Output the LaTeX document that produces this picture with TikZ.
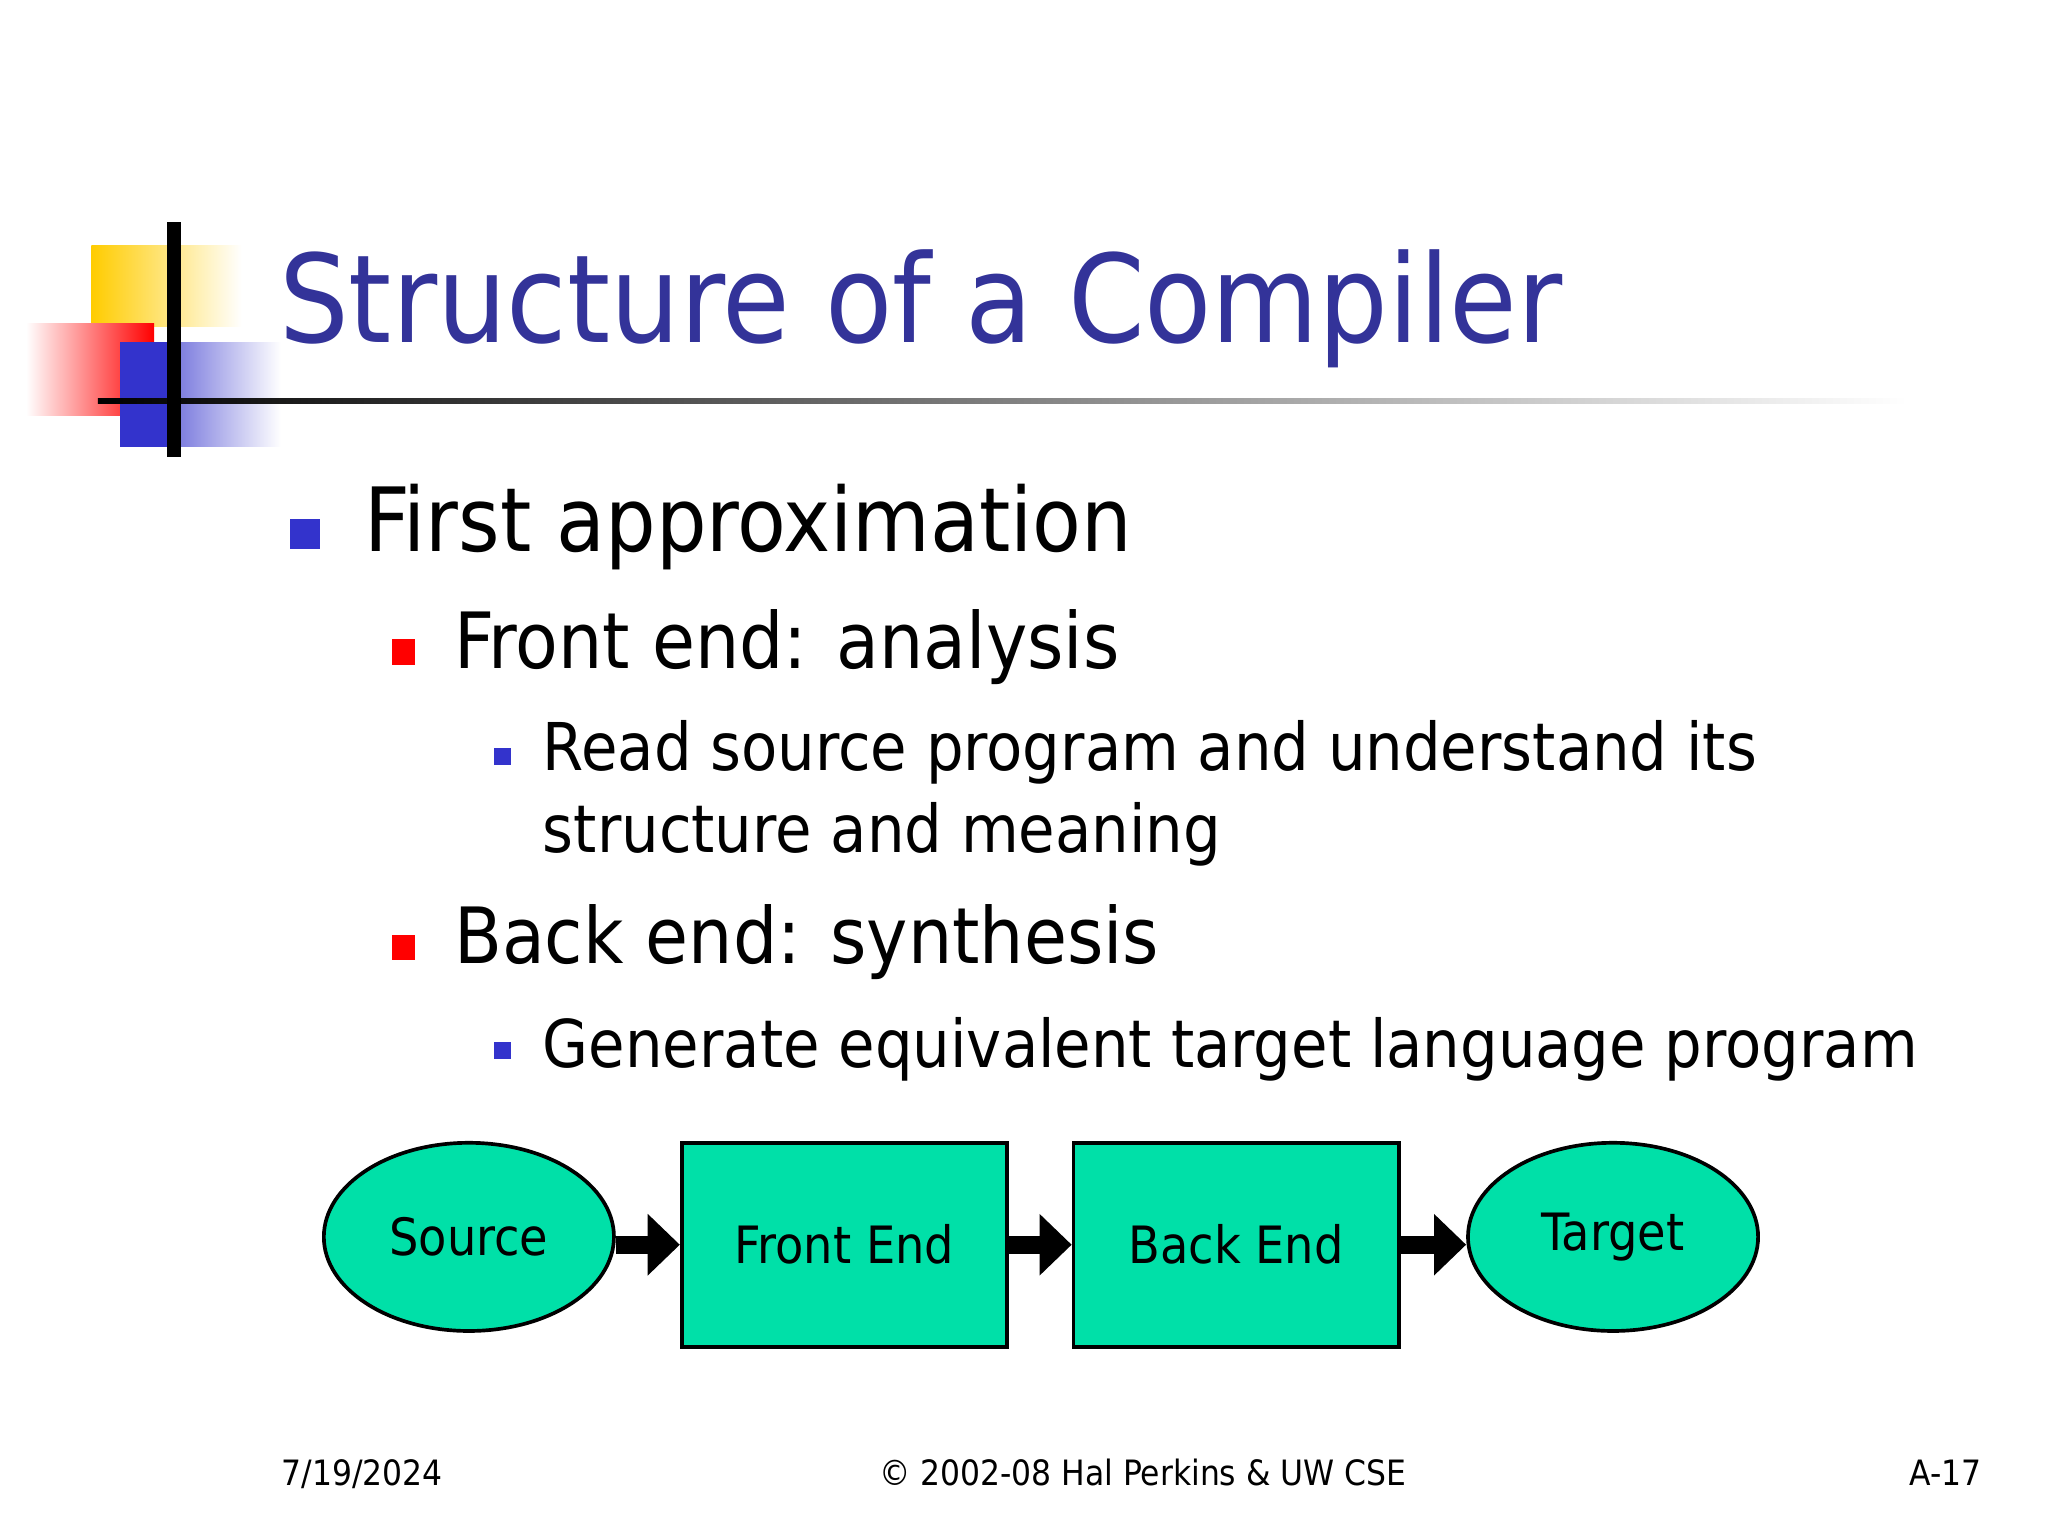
\documentclass[tikz,border=0pt]{standalone}
\usepackage{fontspec}
\setmainfont{DejaVu Sans Condensed}
\usetikzlibrary{arrows.meta,shapes.geometric}
\definecolor{ttl}{RGB}{51,51,153}
\definecolor{bblue}{RGB}{51,51,204}
\definecolor{bred}{RGB}{255,0,0}
\definecolor{ygold}{RGB}{255,204,0}
\definecolor{mint}{RGB}{0,224,168}
\tikzset{
  shape fill/.style={fill=mint,draw=black,line width=0.8pt},
  box/.style={shape fill,rectangle,minimum width=2.49cm,minimum height=1.56cm,font=\fontsize{11.2}{13}\selectfont},
  oval/.style={shape fill,ellipse,minimum width=2.22cm,minimum height=1.44cm,inner sep=0pt,font=\fontsize{11.2}{13}\selectfont},
  conn/.style={line width=4pt,-{Triangle[length=7pt,width=13pt]}},
  lvl1/.style={anchor=base west,inner sep=0pt,font=\fontsize{19.3}{23}\selectfont},
  lvl2/.style={anchor=base west,inner sep=0pt,font=\fontsize{16.9}{20}\selectfont},
  lvl3/.style={anchor=base west,inner sep=0pt,font=\fontsize{14.35}{17}\selectfont},
  foot/.style={anchor=base,inner sep=0pt,font=\fontsize{7.6}{9}\selectfont},
}
\begin{document}
\begin{tikzpicture}[x=0.01cm,y=-0.01cm]
\useasboundingbox (0,0) rectangle (1568,1176);
% decoration
\shade[left color=ygold,right color=white] (70,188) rectangle (185,250);
\shade[left color=white,right color=bred] (20,248) rectangle (118,318);
\shade[left color=bblue,right color=white] (92,262) rectangle (215,342);
\fill[bblue] (92,262) rectangle (130,342);
\shade[left color=black,right color=white] (75,305) rectangle (1460,309);
\draw[line width=3pt] (133,170) -- (133,350);
% title
\node[anchor=base west,inner sep=0pt,text=ttl,font=\fontsize{26.6}{32}\selectfont] (title) at (213,262) {Structure of a Compiler};
% bullets
\fill[bblue] (222,397) rectangle (245,420);
\node[lvl1] (b1) at (278,422) {First approximation};
\fill[bred] (300,489) rectangle (318,509);
\node[lvl2] (b2) at (347,512) {Front end: analysis};
\fill[bblue] (378,573) rectangle (391,586);
\node[lvl3] (b3) at (415,590) {Read source program and understand its};
\node[lvl3] (b3b) at (415,653) {structure and meaning};
\fill[bred] (300,716) rectangle (318,735);
\node[lvl2] (b4) at (347,738) {Back end: synthesis};
\fill[bblue] (378,798) rectangle (391,811);
\node[lvl3] (b5) at (415,817) {Generate equivalent target language program};
% diagram
\node[oval] (src) at (359,947) {Source};
\node[box] (fe) at (646.5,953) {Front End};
\node[box] (be) at (946.5,953) {Back End};
\node[oval] (tgt) at (1235,947) {Target};
\draw[conn] (src.east |- fe.west) -- (fe.west);
\draw[conn] (fe.east) -- (be.west);
\draw[conn] (be.east) -- (tgt.west |- be.east);
% footer
\node[foot,anchor=base west] (f1) at (215,1137) {7/19/2024};
\node[foot] (f2) at (875,1137) {© 2002-08 Hal Perkins \& UW CSE};
\node[foot,anchor=base east] (f3) at (1518,1137) {A-17};
\end{tikzpicture}
\end{document}
